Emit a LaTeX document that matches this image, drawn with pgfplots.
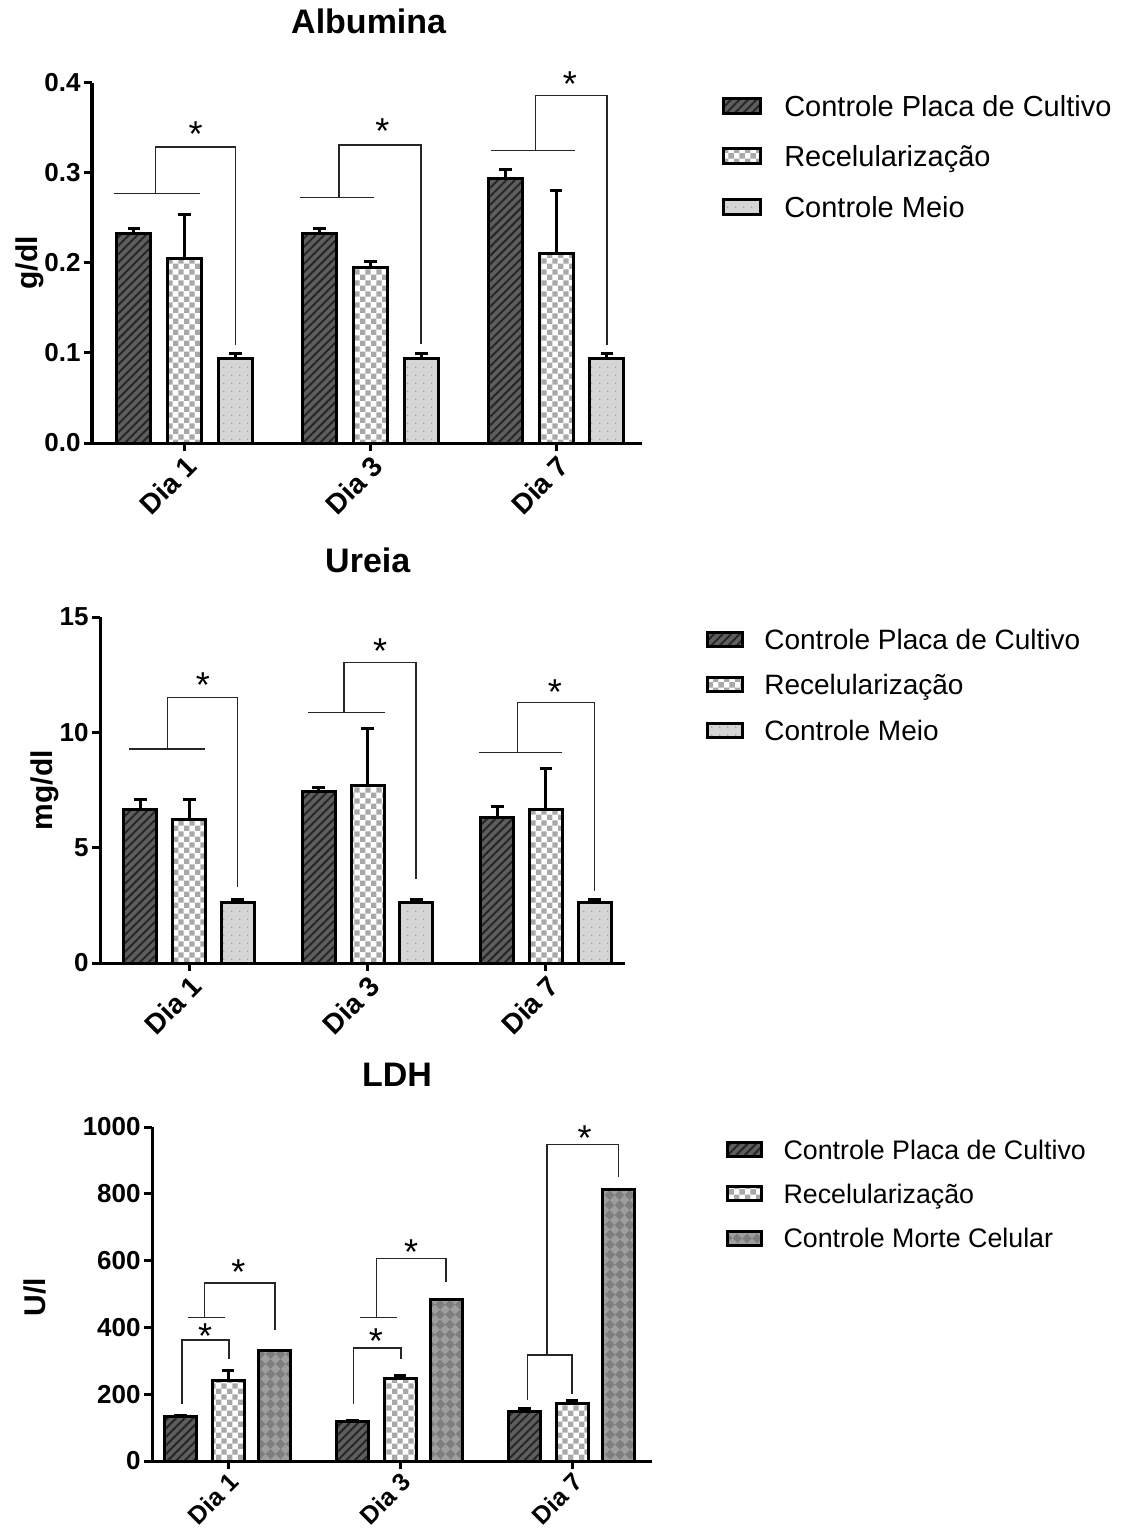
\documentclass[border=0pt]{standalone}
\usepackage{fontspec}
\setmainfont{Liberation Sans}
\usepackage{pgfplots}
\pgfplotsset{compat=1.18}
\usetikzlibrary{patterns.meta}

\definecolor{darkfill}{HTML}{5E5E5E}
\definecolor{checkgray}{HTML}{A8A8A8}
\definecolor{lightfill}{HTML}{D5D5D5}
\definecolor{dotgray}{HTML}{A5A5A5}
\definecolor{mortefill}{HTML}{7E7E7E}
\definecolor{mortediam}{HTML}{9E9E9E}

\tikzdeclarepattern{name=mychecker, type=uncolored,
  bounding box={(0pt,0pt) and (5.4pt,5.4pt)}, tile size={(5.4pt,5.4pt)},
  code={\fill (0pt,0pt) rectangle (2.7pt,2.7pt); \fill (2.7pt,2.7pt) rectangle (5.4pt,5.4pt);}}
\tikzdeclarepattern{name=mydiamond, type=uncolored,
  bounding box={(0pt,0pt) and (7pt,7pt)}, tile size={(7pt,7pt)}, tile transformation={rotate=45},
  code={\fill (0pt,0pt) rectangle (3.5pt,3.5pt); \fill (3.5pt,3.5pt) rectangle (7pt,7pt);}}

\tikzset{
  sPlaca/.style={preaction={fill=darkfill}, pattern={Lines[angle=45,distance=3pt,line width=1pt]}, pattern color=black!85, draw=black, line width=1.5pt},
  sRecel/.style={preaction={fill=white}, pattern=mychecker, pattern color=checkgray, draw=black, line width=1.5pt},
  sMeio/.style={preaction={fill=lightfill}, pattern={Dots[radius=0.5pt,distance=4pt]}, pattern color=dotgray, draw=black, line width=1.5pt},
  sMorte/.style={preaction={fill=mortefill}, pattern=mydiamond, pattern color=mortediam, draw=black, line width=1.5pt},
  star/.style={font=\fontsize{18}{20}\selectfont, inner sep=0pt, anchor=center, yshift=-3.9pt},
}

\pgfplotsset{
  gp/.style={
    scale only axis, anchor=south west, clip=false,
    axis x line=bottom, axis y line=left,
    axis line style={line width=1.5pt, -},
    every tick/.style={line width=1.5pt, black},
    tick align=outside, major tick length=4pt,
    ymin=0,
    xtick={0,1,2}, xticklabels={Dia 1,Dia 3,Dia 7},
    x tick label style={rotate=45, anchor=north east, inner sep=1pt, font=\bfseries\fontsize{14}{16}\selectfont},
    y tick label style={font=\bfseries\fontsize{13}{15}\selectfont, inner sep=1.5pt},
    /pgf/number format/assume math mode=true,
    /pgf/number format/1000 sep={},
    ylabel style={font=\bfseries\fontsize{15}{17}\selectfont, anchor=center},
    title style={font=\bfseries\fontsize{17}{20}\selectfont, anchor=center},
    legend cell align=left,
  },
  err/.style={forget plot, draw=none, mark=none, error bars/.cd, y dir=plus, y explicit, error mark=|,
    error bar style={draw=black, line width=1.5pt, solid}, error mark options={draw=black, line width=1.5pt, mark size=3.2pt}},
  br/.style={forget plot, sharp plot, mark=none, black!85, line width=0.75pt},
}

\begin{document}
\begin{tikzpicture}
\path[use as bounding box] (0pt,0pt) rectangle (560pt,-767.5pt);

% ---------------- Albumina ----------------
\begin{axis}[gp, at={(46pt,-221.5pt)}, width=275pt, height=180pt,
  xmin=-0.498, xmax=2.463, ymax=0.4, ytick={0,0.1,0.2,0.3,0.4},
  yticklabel style={/pgf/number format/.cd, fixed, fixed zerofill, precision=1},
  ylabel={g/dl}, ylabel style={at={(axis description cs:-0.113,0.5)}},
  title={Albumina}, title style={at={(axis description cs:0.503,1.138)}},
  legend style={at={(1.145,0.965)}, anchor=north west, draw=none, fill=none, inner sep=0pt, outer sep=0pt,
    row sep=14.75pt, font=\fontsize{14.5}{17}\selectfont, nodes={inner sep=0pt, text height=10.4pt, text depth=0pt}},
  legend image code/.code={\draw[#1, line width=1.5pt] (0pt,-3.75pt) rectangle (18.5pt,3.75pt); \path (29.75pt,0pt);},
]
\addplot[ybar, bar width=17pt, bar shift=0pt, sPlaca] coordinates {(-0.272,0.233) (0.728,0.233) (1.728,0.294)};
\addlegendentry{Controle Placa de Cultivo}
\addplot[ybar, bar width=17pt, bar shift=0pt, sRecel] coordinates {(0,0.205) (1,0.195) (2,0.210)};
\addlegendentry{Recelularização}
\addplot[ybar, bar width=17pt, bar shift=0pt, sMeio] coordinates {(0.274,0.094) (1.274,0.094) (2.274,0.094)};
\addlegendentry{Controle Meio}
\addplot[err] coordinates {(-0.272,0.233) +- (0,0.0055) (0.728,0.233) +- (0,0.0055) (1.728,0.294) +- (0,0.010)
  (0,0.205) +- (0,0.049) (1,0.195) +- (0,0.007) (2,0.210) +- (0,0.070)
  (0.274,0.094) +- (0,0.005) (1.274,0.094) +- (0,0.005) (2.274,0.094) +- (0,0.005)};
% brackets
\addplot[br] coordinates {(-0.382,0.277) (0.086,0.277)};
\addplot[br] coordinates {(-0.155,0.277) (-0.155,0.329) (0.274,0.329) (0.274,0.109)};
\addplot[br] coordinates {(0.624,0.273) (1.018,0.273)};
\addplot[br] coordinates {(0.832,0.273) (0.832,0.331) (1.274,0.331) (1.274,0.110)};
\addplot[br] coordinates {(1.650,0.325) (2.100,0.325)};
\addplot[br] coordinates {(1.890,0.325) (1.890,0.386) (2.274,0.386) (2.274,0.109)};
\node[star] at (axis cs:0.060,0.352) {*};
\node[star] at (axis cs:1.065,0.355) {*};
\node[star] at (axis cs:2.075,0.407) {*};
\end{axis}

% ---------------- Ureia ----------------
\begin{axis}[gp, at={(50pt,-481.5pt)}, width=262.5pt, height=173pt,
  xmin=-0.5, xmax=2.443, ymax=15, ytick={0,5,10,15},
  ylabel={mg/dl}, ylabel style={at={(axis description cs:-0.105,0.5)}},
  title={Ureia}, title style={at={(axis description cs:0.51,1.130)}},
  legend style={at={(1.154,0.964)}, anchor=north west, draw=none, fill=none, inner sep=0pt, outer sep=0pt,
    row sep=12.75pt, font=\fontsize{14}{17}\selectfont, nodes={inner sep=0pt, text height=10pt, text depth=0pt}},
  legend image code/.code={\draw[#1, line width=1.5pt] (0pt,-3.5pt) rectangle (17.5pt,3.5pt); \path (27.75pt,0pt);},
]
\addplot[ybar, bar width=16.5pt, bar shift=0pt, sPlaca] coordinates {(-0.274,6.67) (0.726,7.42) (1.726,6.29)};
\addlegendentry{Controle Placa de Cultivo}
\addplot[ybar, bar width=16.5pt, bar shift=0pt, sRecel] coordinates {(0,6.21) (1,7.71) (2,6.64)};
\addlegendentry{Recelularização}
\addplot[ybar, bar width=16.5pt, bar shift=0pt, sMeio] coordinates {(0.272,2.61) (1.272,2.61) (2.272,2.61)};
\addlegendentry{Controle Meio}
\addplot[err] coordinates {(-0.274,6.67) +- (0,0.43) (0.726,7.42) +- (0,0.19) (1.726,6.29) +- (0,0.48)
  (0,6.21) +- (0,0.88) (1,7.71) +- (0,2.47) (2,6.64) +- (0,1.79)
  (0.272,2.61) +- (0,0.16) (1.272,2.61) +- (0,0.16) (2.272,2.61) +- (0,0.16)};
\addplot[br] coordinates {(-0.336,9.28) (0.089,9.28)};
\addplot[br] coordinates {(-0.121,9.28) (-0.121,11.5) (0.272,11.5) (0.272,3.31)};
\addplot[br] coordinates {(0.668,10.86) (1.100,10.86)};
\addplot[br] coordinates {(0.867,10.86) (0.867,13.02) (1.272,13.02) (1.272,3.64)};
\addplot[br] coordinates {(1.624,9.12) (2.090,9.12)};
\addplot[br] coordinates {(1.841,9.12) (1.841,11.29) (2.272,11.29) (2.272,3.13)};
\node[star] at (axis cs:0.077,12.4) {*};
\node[star] at (axis cs:1.070,13.84) {*};
\node[star] at (axis cs:2.050,12.1) {*};
\end{axis}

% ---------------- LDH ----------------
\begin{axis}[gp, at={(76pt,-730.5pt)}, width=250pt, height=167pt,
  xmin=-0.442, xmax=2.465, ymax=1000, ytick={0,200,400,600,800,1000},
  x tick label style={font=\bfseries\fontsize{12.5}{14}\selectfont, inner sep=0.5pt},
  ylabel={U/l}, ylabel style={at={(axis description cs:-0.234,0.49)}},
  title={LDH}, title style={at={(axis description cs:0.49,1.12)}},
  legend style={at={(1.148,0.961)}, anchor=north west, draw=none, fill=none, inner sep=0pt, outer sep=0pt,
    row sep=12.5pt, font=\fontsize{13.4}{16}\selectfont, nodes={inner sep=0pt, text height=9.6pt, text depth=0pt}},
  legend image code/.code={\draw[#1, line width=1.5pt] (0pt,-3.5pt) rectangle (17pt,3.5pt); \path (27.25pt,0pt);},
]
\addplot[ybar, bar width=16pt, bar shift=0pt, sPlaca] coordinates {(-0.276,132) (0.724,117) (1.724,149)};
\addlegendentry{Controle Placa de Cultivo}
\addplot[ybar, bar width=16pt, bar shift=0pt, sRecel] coordinates {(0,242) (1,247) (2,173)};
\addlegendentry{Recelularização}
\addplot[ybar, bar width=16pt, bar shift=0pt, sMorte] coordinates {(0.272,331) (1.272,485) (2.272,814)};
\addlegendentry{Controle Morte Celular}
\addplot[err] coordinates {(-0.276,132) +- (0,4) (0.724,117) +- (0,3) (1.724,149) +- (0,8)
  (0,242) +- (0,28) (1,247) +- (0,8) (2,173) +- (0,7)};
\addplot[br] coordinates {(-0.267,172) (-0.267,363) (0.005,363) (0.005,306)};
\addplot[br] coordinates {(-0.230,429) (-0.017,429)};
\addplot[br] coordinates {(-0.138,429) (-0.138,533) (0.272,533) (0.272,391)};
\addplot[br] coordinates {(0.730,170) (0.730,339) (1.007,339) (1.007,306)};
\addplot[br] coordinates {(0.765,429) (0.983,429)};
\addplot[br] coordinates {(0.862,429) (0.862,606) (1.267,606) (1.267,537)};
\addplot[br] coordinates {(1.740,182) (1.740,318) (2.000,318) (2.000,202)};
\addplot[br] coordinates {(1.855,318) (1.855,948) (2.270,948) (2.270,851)};
\node[star] at (axis cs:-0.133,396) {*};
\node[star] at (axis cs:0.060,590) {*};
\node[star] at (axis cs:0.860,383) {*};
\node[star] at (axis cs:1.065,650) {*};
\node[star] at (axis cs:2.073,990) {*};
\end{axis}
\end{tikzpicture}
\end{document}
